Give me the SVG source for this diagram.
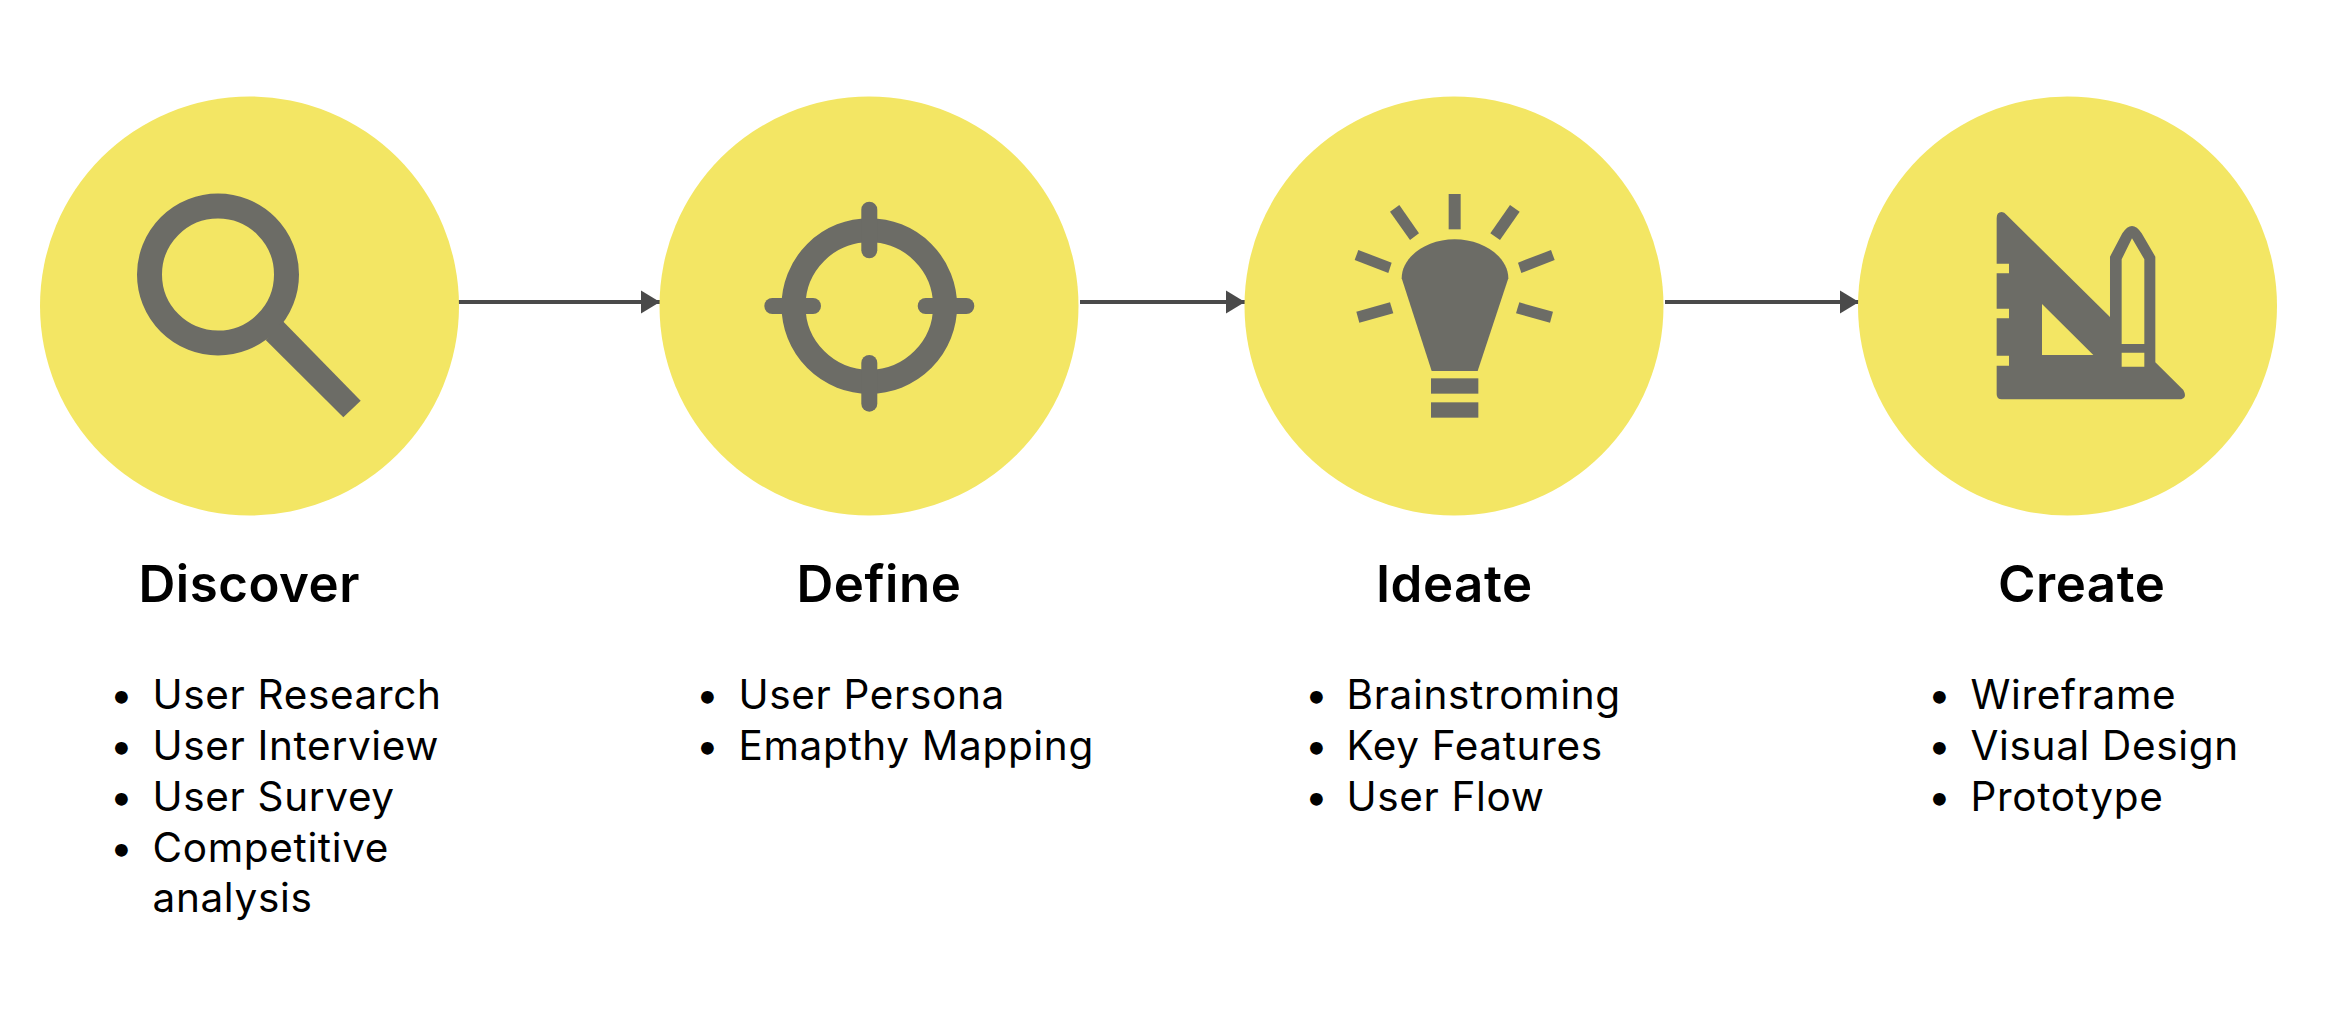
<svg xmlns="http://www.w3.org/2000/svg" width="2329" height="1015" viewBox="0 0 2329 1015">
<style>
.c{fill:#f3e664}
.i{fill:#6c6c66}
.r{fill:none;stroke:#6c6c66}
.h{font-family:Inter,"Liberation Sans",sans-serif;font-weight:600;font-size:51px;letter-spacing:.5px;fill:#000}
.t{font-family:Inter,"Liberation Sans",sans-serif;font-weight:400;font-size:40.500px;letter-spacing:.65px;fill:#000}
.l{stroke:#4a4a4a;stroke-width:4;fill:none;marker-end:url(#a)}
</style>
<defs>
<marker id="a" markerUnits="userSpaceOnUse" markerWidth="20" markerHeight="24" refX="19" refY="12" orient="auto"><path d="M0 0.5L19 12L0 23.500Z" fill="#4a4a4a"/></marker>
</defs>
<rect width="2329" height="1015" fill="#fff"/>
<g id="connectors">
<path class="l" d="M458 302H660"/>
<path class="l" d="M1080 302H1245"/>
<path class="l" d="M1665 302H1859"/>
</g>
<g id="discover">
<circle class="c" cx="249.500" cy="306" r="209.500"/>
<circle class="r" cx="218" cy="274.500" r="68.500" stroke-width="25"/>
<path class="i" d="M282.700 321L360.700 400.700L343.300 417.300L265.700 340Z"/>
<text class="h" x="138.500" y="602">Discover</text>
<text class="t" x="110" y="709">•</text><text class="t" x="152.500" y="709">User Research</text>
<text class="t" x="110" y="760">•</text><text class="t" x="152.500" y="760">User Interview</text>
<text class="t" x="110" y="811">•</text><text class="t" x="152.500" y="811">User Survey</text>
<text class="t" x="110" y="862">•</text><text class="t" x="152.500" y="862">Competitive</text>
<text class="t" x="152.500" y="912">analysis</text>
</g>
<g id="define">
<circle class="c" cx="869" cy="306" r="209.500"/>
<circle class="r" cx="869.300" cy="306" r="75.800" stroke-width="24"/>
<rect class="i" x="861.300" y="201.700" width="16" height="56.600" rx="8"/>
<rect class="i" x="861.300" y="355" width="16" height="56.700" rx="8"/>
<rect class="i" x="764.300" y="298" width="56.700" height="16" rx="8"/>
<rect class="i" x="917.700" y="298" width="56.600" height="16" rx="8"/>
<text class="h" x="796.500" y="602">Define</text>
<text class="t" x="696" y="709">•</text><text class="t" x="738.500" y="709">User Persona</text>
<text class="t" x="696" y="760">•</text><text class="t" x="738.500" y="760">Emapthy Mapping</text>
</g>
<g id="ideate">
<circle class="c" cx="1454" cy="306" r="209.500"/>
<g class="i" transform="translate(1330 170) scale(.33333)">
<path d="M305 603L215 325C215 260 290 208 374 208C458 208 535 260 535 325L443 603Z"/>
<rect x="303" y="625" width="142" height="46"/>
<rect x="303" y="697" width="142" height="46"/>
<rect x="356" y="72" width="36" height="106"/>
<path d="M208 105L267 190L240 210L180 125Z"/>
<path d="M540 105L569 125L510 210L481 190Z"/>
<path d="M85 240L185 278L175 309L74 270Z"/>
<path d="M663 240L674 270L574 309L564 278Z"/>
<path d="M180 397L190 430L88 458L79 425Z"/>
<path d="M568 397L669 425L660 458L558 430Z"/>
</g>
<text class="h" x="1376" y="602">Ideate</text>
<text class="t" x="1305" y="709">•</text><text class="t" x="1346.500" y="709">Brainstroming</text>
<text class="t" x="1305" y="760">•</text><text class="t" x="1346.500" y="760">Key Features</text>
<text class="t" x="1305" y="811">•</text><text class="t" x="1346.500" y="811">User Flow</text>
</g>
<g id="create">
<circle class="c" cx="2067.500" cy="306" r="209.500"/>
<path class="i" fill-rule="evenodd" transform="translate(1960 190) scale(.33333)" d="M110 85Q110 66 125 66Q133 66 140 75L450 381L450 200L487 130Q516 86 545 130L586 200L586 517L670 600Q685 628 655 628L125 628Q110 628 110 613L110 527L147 527L147 497L110 497L110 385L147 385L147 356L110 356L110 250L147 250L147 221L110 221ZM246 342L246 495L400 495ZM485 208L516 145L553 208L553 462L485 462ZM485 488L553 488L553 530L485 530Z"/>
<text class="h" x="1998" y="602">Create</text>
<text class="t" x="1928" y="709">•</text><text class="t" x="1970.500" y="709">Wireframe</text>
<text class="t" x="1928" y="760">•</text><text class="t" x="1970.500" y="760">Visual Design</text>
<text class="t" x="1928" y="811">•</text><text class="t" x="1970.500" y="811">Prototype</text>
</g>
</svg>
